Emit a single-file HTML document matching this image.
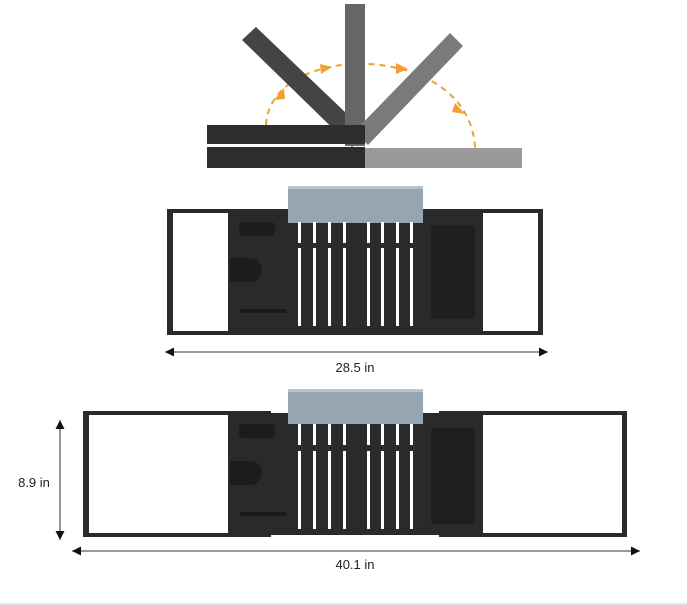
<!DOCTYPE html>
<html><head><meta charset="utf-8"><style>
html,body{margin:0;padding:0;background:#fff;}
svg{display:block;}
text{font-family:"Liberation Sans",sans-serif;font-size:13px;fill:#222;}
</style></head><body>
<svg width="687" height="605" viewBox="0 0 687 605" xmlns="http://www.w3.org/2000/svg">
<defs>
<marker id="ah" viewBox="0 0 10 10" refX="10" refY="5" markerWidth="16" markerHeight="9" orient="auto-start-reverse" markerUnits="userSpaceOnUse"><path d="M0,0 L10,5 L0,10 z" fill="#111"/></marker>
</defs>

<!-- Top fold diagram -->
<path d="M266,125 C270,40 470,40 475,148" fill="none" stroke="#f0a030" stroke-width="2" stroke-dasharray="6,5"/>
<polygon points="242,40 256,27 368,134 352,147" fill="#444"/>
<rect x="345" y="4" width="20" height="142" fill="#666"/>
<polygon points="450,33 463,46 368,145 354,132" fill="#7a7a7a"/>
<rect x="364" y="148" width="158" height="20" fill="#9a9a9a"/>
<rect x="207" y="125" width="158" height="19" fill="#2d2d2d"/>
<rect x="207" y="147" width="158" height="21" fill="#2d2d2d"/>
<polygon points="207,144 238,144 248,147 207,147" fill="#fff"/>
<g fill="#f0a030">
<polygon points="274,100 284,88 285,99"/>
<polygon points="320,64 332,67 321,74"/>
<polygon points="396,63 408,69 396,74"/>
<polygon points="455,103 465,114 452,112"/>
</g>

<!-- Middle tray -->
<rect x="167" y="209" width="376" height="126" fill="#2a2a2a"/>
<rect x="173" y="213" width="55" height="118" fill="#fff"/>
<rect x="483" y="213" width="55" height="118" fill="#fff"/>
<rect x="239" y="222" width="36" height="14" rx="4" fill="#1c1c1c"/>
<path d="M230,258 h20 a12,12 0 0 1 0,24 h-20 z" fill="#1c1c1c"/>
<rect x="240" y="309" width="46" height="4" fill="#1a1a1a"/>
<rect x="431" y="225" width="44" height="94" rx="4" fill="#1f1f1f"/>
<rect x="288" y="186" width="135" height="37" fill="#95a6b2"/>
<rect x="288" y="186" width="135" height="3" fill="#b8c4cc"/>
<g fill="#fff">
<rect x="298" y="222" width="3" height="21"/><rect x="313" y="222" width="3" height="21"/><rect x="328" y="222" width="3" height="21"/><rect x="343" y="222" width="3" height="21"/><rect x="367" y="222" width="3" height="21"/><rect x="381" y="222" width="3" height="21"/><rect x="396" y="222" width="3" height="21"/><rect x="410" y="222" width="3" height="21"/>
<rect x="298" y="248" width="3" height="78"/><rect x="313" y="248" width="3" height="78"/><rect x="328" y="248" width="3" height="78"/><rect x="343" y="248" width="3" height="78"/><rect x="367" y="248" width="3" height="78"/><rect x="381" y="248" width="3" height="78"/><rect x="396" y="248" width="3" height="78"/><rect x="410" y="248" width="3" height="78"/>
</g>
<line x1="165" y1="352" x2="548" y2="352" stroke="#333" stroke-width="1" marker-start="url(#ah)" marker-end="url(#ah)"/>
<text x="355" y="372" text-anchor="middle">28.5 in</text>

<!-- Bottom tray -->
<rect x="83" y="411" width="544" height="126" fill="#2a2a2a"/>
<rect x="271" y="409" width="168" height="4" fill="#fff"/>
<rect x="271" y="535" width="168" height="3" fill="#fff"/>
<rect x="89" y="415" width="139" height="118" fill="#fff"/>
<rect x="483" y="415" width="139" height="118" fill="#fff"/>
<rect x="239" y="424" width="36" height="14" rx="4" fill="#1c1c1c"/>
<path d="M230,461 h20 a12,12 0 0 1 0,24 h-20 z" fill="#1c1c1c"/>
<rect x="240" y="512" width="46" height="4" fill="#1a1a1a"/>
<rect x="431" y="428" width="44" height="96" rx="4" fill="#1f1f1f"/>
<rect x="288" y="389" width="135" height="35" fill="#95a6b2"/>
<rect x="288" y="389" width="135" height="3" fill="#b8c4cc"/>
<g fill="#fff">
<rect x="298" y="424" width="3" height="21"/><rect x="313" y="424" width="3" height="21"/><rect x="328" y="424" width="3" height="21"/><rect x="343" y="424" width="3" height="21"/><rect x="367" y="424" width="3" height="21"/><rect x="381" y="424" width="3" height="21"/><rect x="396" y="424" width="3" height="21"/><rect x="410" y="424" width="3" height="21"/>
<rect x="298" y="451" width="3" height="78"/><rect x="313" y="451" width="3" height="78"/><rect x="328" y="451" width="3" height="78"/><rect x="343" y="451" width="3" height="78"/><rect x="367" y="451" width="3" height="78"/><rect x="381" y="451" width="3" height="78"/><rect x="396" y="451" width="3" height="78"/><rect x="410" y="451" width="3" height="78"/>
</g>
<line x1="60" y1="420" x2="60" y2="540" stroke="#333" stroke-width="1" marker-start="url(#ah)" marker-end="url(#ah)"/>
<text x="34" y="487" text-anchor="middle">8.9 in</text>
<line x1="72" y1="551" x2="640" y2="551" stroke="#333" stroke-width="1" marker-start="url(#ah)" marker-end="url(#ah)"/>
<text x="355" y="569" text-anchor="middle">40.1 in</text>
<rect x="0" y="603" width="687" height="2" fill="#e4e4e4"/>
</svg>
</body></html>
